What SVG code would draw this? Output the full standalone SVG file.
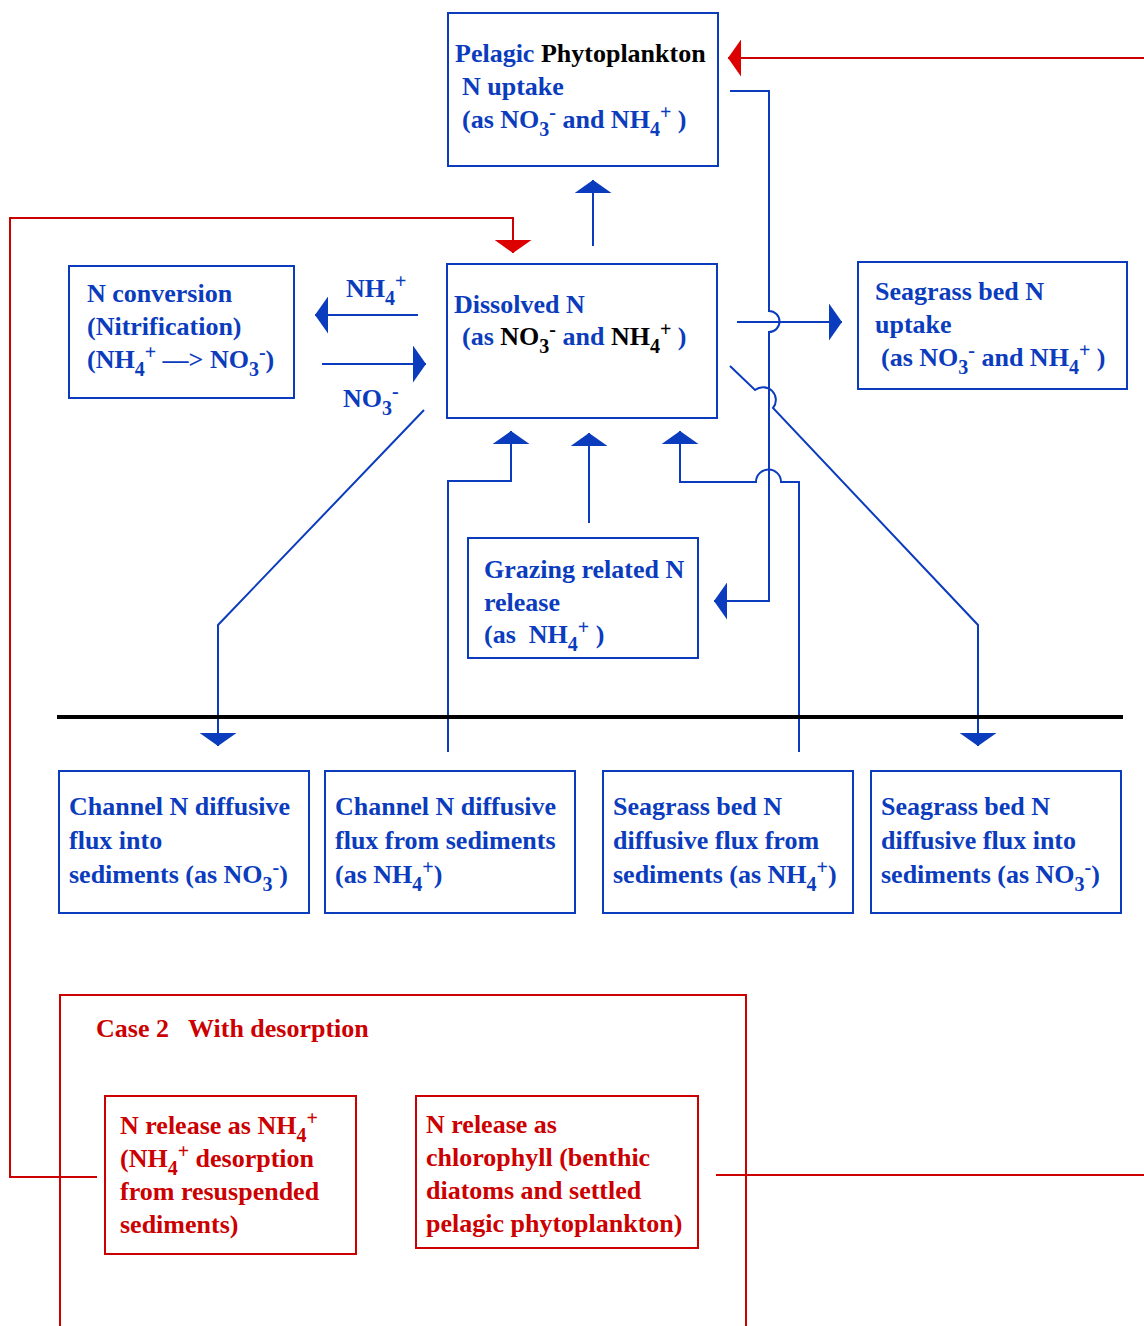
<svg xmlns="http://www.w3.org/2000/svg" width="1144" height="1326" viewBox="0 0 1144 1326">
<defs>
<style>
text{font-family:"Liberation Serif","Times New Roman",serif;font-weight:bold;font-size:26px;fill:#0b3cbd}
.k{fill:#000}
.r{fill:#cc0000}
.s{font-size:20px}
.box{fill:none;stroke:#0b3cbd;stroke-width:2}
.rbox{fill:none;stroke:#cc0000;stroke-width:2}
.c{fill:none;stroke:#0b3cbd;stroke-width:2}
.cr{fill:none;stroke:#cc0000;stroke-width:2}
</style>
<marker id="ab" viewBox="0 0 13 37" markerWidth="13" markerHeight="37" markerUnits="userSpaceOnUse" refX="13" refY="18.5" orient="auto"><path d="M0,0 L13,18.5 L0,37 Z" fill="#0b3cbd"/></marker>
<marker id="ar" viewBox="0 0 13 37" markerWidth="13" markerHeight="37" markerUnits="userSpaceOnUse" refX="13" refY="18.5" orient="auto"><path d="M0,0 L13,18.5 L0,37 Z" fill="#dd0000"/></marker>
</defs>
<rect width="1144" height="1326" fill="#fff"/>

<g id="connectors">
<path class="c" d="M593,246 V180" marker-end="url(#ab)"/>
<path class="c" d="M418,315 H315" marker-end="url(#ab)"/>
<path class="c" d="M322,364 H426" marker-end="url(#ab)"/>
<path class="c" d="M737,322 H842" marker-end="url(#ab)"/>
<path class="c" d="M730,91 H769 V311 A10.5,10.5 0 0 1 769,332 V601 H714" marker-end="url(#ab)"/>
<path class="c" d="M424,410 L218,625 V746" marker-end="url(#ab)"/>
<path class="c" d="M730,366 L755,390 A12.8,12.8 0 0 1 773,408 L978,625 V746" marker-end="url(#ab)"/>
<path class="c" d="M448,752 V481 H511 V431" marker-end="url(#ab)"/>
<path class="c" d="M589,523 V433" marker-end="url(#ab)"/>
<path class="c" d="M799,752 V482 H781 A12.5,12.5 0 0 0 756,482 H680 V431" marker-end="url(#ab)"/>
<path d="M57,717 H1123" stroke="#000" stroke-width="4" fill="none"/>
<path class="cr" d="M1144,58 H728" marker-end="url(#ar)"/>
<path class="cr" d="M97,1177 H10 V218 H513 V253" marker-end="url(#ar)"/>
<path class="cr" d="M716,1175 H1144"/>
</g>

<g id="pelagic">
<rect class="box" x="448" y="13" width="270" height="153"/>
<text x="455" y="62">Pelagic <tspan class="k">Phytoplankton</tspan></text>
<text x="462" y="95">N uptake</text>
<text x="462" y="128">(as NO<tspan class="s" dy="8">3</tspan><tspan class="s" dy="-17">-</tspan><tspan dy="9"> and NH</tspan><tspan class="s" dy="8">4</tspan><tspan class="s" dy="-17">+</tspan><tspan dy="9"> )</tspan></text>
</g>

<g id="dissolved">
<rect class="box" x="447" y="264" width="270" height="154"/>
<text x="454" y="313">Dissolved N</text>
<text x="462" y="345">(as <tspan class="k">NO</tspan><tspan class="s k" dy="8">3</tspan><tspan class="s k" dy="-17">-</tspan><tspan dy="9"> and </tspan><tspan class="k">NH</tspan><tspan class="s k" dy="8">4</tspan><tspan class="s k" dy="-17">+</tspan><tspan dy="9"> )</tspan></text>
</g>

<g id="nh4-label">
<text x="346" y="297">NH<tspan class="s" dy="8">4</tspan><tspan class="s" dy="-17">+</tspan></text>
</g>
<g id="no3-label">
<text x="343" y="407">NO<tspan class="s" dy="8">3</tspan><tspan class="s" dy="-17">-</tspan></text>
</g>

<g id="conversion">
<rect class="box" x="69" y="266" width="225" height="132"/>
<text x="87" y="302">N conversion</text>
<text x="87" y="335">(Nitrification)</text>
<text x="87" y="368">(NH<tspan class="s" dy="8">4</tspan><tspan class="s" dy="-17">+</tspan><tspan dy="9"> —&gt; NO</tspan><tspan class="s" dy="8">3</tspan><tspan class="s" dy="-17">-</tspan><tspan dy="9">)</tspan></text>
</g>

<g id="seagrass-uptake">
<rect class="box" x="858" y="262" width="269" height="127"/>
<text x="875" y="300">Seagrass bed N</text>
<text x="875" y="333">uptake</text>
<text x="881" y="366">(as NO<tspan class="s" dy="8">3</tspan><tspan class="s" dy="-17">-</tspan><tspan dy="9"> and NH</tspan><tspan class="s" dy="8">4</tspan><tspan class="s" dy="-17">+</tspan><tspan dy="9"> )</tspan></text>
</g>

<g id="grazing">
<rect class="box" x="468" y="538" width="230" height="120"/>
<text x="484" y="578">Grazing related N</text>
<text x="484" y="611">release</text>
<text x="484" y="643" xml:space="preserve">(as  NH<tspan class="s" dy="8">4</tspan><tspan class="s" dy="-17">+</tspan><tspan dy="9"> )</tspan></text>
</g>

<g id="channel-into">
<rect class="box" x="59" y="771" width="250" height="142"/>
<text x="69" y="815">Channel N diffusive</text>
<text x="69" y="849">flux into</text>
<text x="69" y="883">sediments (as NO<tspan class="s" dy="8">3</tspan><tspan class="s" dy="-17">-</tspan><tspan dy="9">)</tspan></text>
</g>

<g id="channel-from">
<rect class="box" x="325" y="771" width="250" height="142"/>
<text x="335" y="815">Channel N diffusive</text>
<text x="335" y="849">flux from sediments</text>
<text x="335" y="883">(as NH<tspan class="s" dy="8">4</tspan><tspan class="s" dy="-17">+</tspan><tspan dy="9">)</tspan></text>
</g>

<g id="seagrass-from">
<rect class="box" x="603" y="771" width="250" height="142"/>
<text x="613" y="815">Seagrass bed N</text>
<text x="613" y="849">diffusive flux from</text>
<text x="613" y="883">sediments (as NH<tspan class="s" dy="8">4</tspan><tspan class="s" dy="-17">+</tspan><tspan dy="9">)</tspan></text>
</g>

<g id="seagrass-into">
<rect class="box" x="871" y="771" width="250" height="142"/>
<text x="881" y="815">Seagrass bed N</text>
<text x="881" y="849">diffusive flux into</text>
<text x="881" y="883">sediments (as NO<tspan class="s" dy="8">3</tspan><tspan class="s" dy="-17">-</tspan><tspan dy="9">)</tspan></text>
</g>

<g id="case2">
<path class="rbox" d="M60,1326 V995 H746 V1326"/>
<text class="r" x="96" y="1037" xml:space="preserve">Case 2   With desorption</text>
</g>

<g id="release-nh4">
<rect class="rbox" x="105" y="1096" width="251" height="158"/>
<text class="r" x="120" y="1134">N release as NH<tspan class="s" dy="8">4</tspan><tspan class="s" dy="-17">+</tspan></text>
<text class="r" x="120" y="1167">(NH<tspan class="s" dy="8">4</tspan><tspan class="s" dy="-17">+</tspan><tspan dy="9"> desorption</tspan></text>
<text class="r" x="120" y="1200">from resuspended</text>
<text class="r" x="120" y="1233">sediments)</text>
</g>

<g id="release-chl">
<rect class="rbox" x="416" y="1096" width="282" height="152"/>
<text class="r" x="426" y="1133">N release as</text>
<text class="r" x="426" y="1166">chlorophyll (benthic</text>
<text class="r" x="426" y="1199">diatoms and settled</text>
<text class="r" x="426" y="1232">pelagic phytoplankton)</text>
</g>
</svg>
